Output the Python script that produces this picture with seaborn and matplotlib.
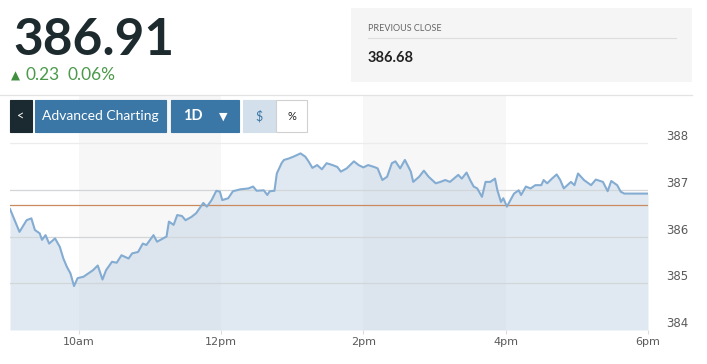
import matplotlib
matplotlib.use("Agg")
import matplotlib.pyplot as plt
from matplotlib.patches import Rectangle
import seaborn as sns
import pandas as pd

# intraday quotes
times = ["9:02", "9:10", "9:16", "9:20", "9:23", "9:27", "9:29", "9:32", "9:35", "9:40",
         "9:44", "9:47", "9:50", "9:53", "9:56", "9:59", "10:04", "10:08", "10:12", "10:16",
         "10:20", "10:23", "10:28", "10:32", "10:36", "10:42", "10:45", "10:50", "10:54", "10:57",
         "11:03", "11:06", "11:11", "11:14", "11:16", "11:20", "11:23", "11:27", "11:30", "11:35",
         "11:39", "11:45", "11:48", "11:52", "11:56", "11:59", "12:01", "12:06", "12:10", "12:16",
         "12:23", "12:27", "12:30", "12:36", "12:39", "12:41", "12:45", "12:47", "12:51", "12:53",
         "12:57", "13:01", "13:07", "13:11", "13:14", "13:17", "13:21", "13:25", "13:29", "13:34",
         "13:38", "13:41", "13:46", "13:52", "13:56", "14:00", "14:04", "14:09", "14:12", "14:16",
         "14:20", "14:24", "14:27", "14:31", "14:35", "14:40", "14:42", "14:47", "14:51", "14:55",
         "15:01", "15:05", "15:09", "15:13", "15:20", "15:23", "15:27", "15:30", "15:33", "15:36",
         "15:40", "15:43", "15:47", "15:51", "15:53", "15:56", "15:58", "16:01", "16:04", "16:07",
         "16:11", "16:13", "16:17", "16:21", "16:25", "16:30", "16:32", "16:35", "16:39", "16:43",
         "16:46", "16:49", "16:55", "16:58", "17:01", "17:06", "17:12", "17:16", "17:22", "17:26",
         "17:29", "17:34", "17:37", "17:40", "18:00"]
prices = [386.59, 386.10, 386.35, 386.39, 386.14, 386.07, 385.93, 386.03, 385.85, 385.96,
          385.78, 385.53, 385.35, 385.21, 384.94, 385.11, 385.14, 385.21, 385.28, 385.38,
          385.08, 385.28, 385.46, 385.44, 385.60, 385.53, 385.64, 385.67, 385.85, 385.82,
          386.03, 385.89, 385.96, 386.00, 386.32, 386.25, 386.46, 386.44, 386.35, 386.42,
          386.50, 386.72, 386.64, 386.78, 386.98, 386.96, 386.78, 386.82, 386.97, 387.01,
          387.03, 387.07, 386.98, 386.99, 386.89, 386.97, 386.98, 387.35, 387.57, 387.64,
          387.67, 387.71, 387.78, 387.71, 387.60, 387.47, 387.53, 387.44, 387.57, 387.53,
          387.49, 387.39, 387.46, 387.61, 387.53, 387.48, 387.53, 387.49, 387.46, 387.21,
          387.28, 387.57, 387.61, 387.46, 387.64, 387.39, 387.17, 387.28, 387.41, 387.28,
          387.14, 387.17, 387.21, 387.17, 387.32, 387.24, 387.37, 387.21, 387.07, 387.03,
          386.85, 387.17, 387.17, 387.24, 386.99, 386.74, 386.82, 386.64, 386.78, 386.92,
          386.99, 386.89, 387.07, 387.03, 387.10, 387.10, 387.21, 387.14, 387.24, 387.33,
          387.21, 387.03, 387.17, 387.10, 387.35, 387.21, 387.10, 387.22, 387.17, 386.97,
          387.19, 387.10, 386.96, 386.92, 386.92]

last_price = "386.91"
change = "0.23"
change_pct = "0.06%"
prev_close = 386.68
prev_close_label = "386.68"

x_ticks = [10, 12, 14, 16, 18]
x_tick_labels = ["10am", "12pm", "2pm", "4pm", "6pm"]
y_ticks = [384, 385, 386, 387, 388]
shaded_hours = [(10, 12), (14, 16)]

df = pd.DataFrame({"time": times, "price": prices})
hm = df["time"].str.split(":", expand=True).astype(int)
df["hour"] = hm[0] + hm[1] / 60

W, H = 707, 364
fig = plt.figure(figsize=(W / 100, H / 100), dpi=100)
fig.set_facecolor("white")


def fx(x):
    return x / W


def fy(y):
    return 1 - y / H


ax = fig.add_axes([fx(10), fy(330), fx(648) - fx(10), fy(95) - fy(330)])
ax.set_facecolor("white")

for a, b in shaded_hours:
    ax.axvspan(a, b, color="#f7f7f7", zorder=0, lw=0)

ax.fill_between(df["hour"], df["price"], 384, color="#c2d5e6", alpha=0.5, lw=0, zorder=1)

for t in y_ticks[1:]:
    ax.axhline(t, color="#ececec" if t == 388 else "#d3d6d9", lw=0.9, zorder=1.5)

ax.axhline(prev_close, color="#c98a5e", lw=0.9, zorder=2)

sns.lineplot(data=df, x="hour", y="price", color="#84acd2", lw=1.5, ax=ax, zorder=3)

ax.set_xlim(df["hour"].iloc[0], 18)
ax.set_ylim(384, 389.03)
ax.set_xlabel("")
ax.set_ylabel("")
for s in ax.spines.values():
    s.set_visible(False)
ax.set_xticks(x_ticks, labels=x_tick_labels)
ax.set_yticks(y_ticks, labels=[str(t) for t in y_ticks])
ax.yaxis.tick_right()
ax.tick_params(axis="x", length=3, color="#dddddd", labelsize=8, labelcolor="#5a5a5a", pad=2)
ax.tick_params(axis="y", length=0, labelsize=8.5, labelcolor="#5a5a5a", pad=13)
for lab in ax.get_yticklabels():
    lab.set_verticalalignment("bottom")

# header
fig.text(fx(13), fy(55), last_price, family="Lato", weight="bold", fontsize=37,
         color="#1d2b2f", va="baseline")
fig.text(fx(10.5), fy(79.5), "▲", family="DejaVu Sans", fontsize=8.5, color="#3f8f3f",
         va="baseline")
fig.text(fx(25), fy(80), change, family="Lato", fontsize=12.5, color="#4b9a4b", va="baseline")
fig.text(fx(68), fy(80), change_pct, family="Lato", fontsize=12.5, color="#4b9a4b", va="baseline")

fig.add_artist(Rectangle((fx(351), fy(82)), fx(692) - fx(351), fy(8) - fy(82),
                         transform=fig.transFigure, color="#f5f5f5", lw=0, zorder=0.5))
fig.text(fx(368), fy(31), "PREVIOUS CLOSE", family="Lato", fontsize=6.5, color="#666666",
         va="baseline")
fig.add_artist(plt.Line2D([fx(368), fx(676)], [fy(38), fy(38)], transform=fig.transFigure,
                          color="#dddddd", lw=0.8))
fig.text(fx(368), fy(62), prev_close_label, family="Lato", weight="bold", fontsize=10.5,
         color="#222222", va="baseline")

fig.add_artist(plt.Line2D([0, fx(692)], [fy(95), fy(95)], transform=fig.transFigure,
                          color="#e3e3e3", lw=0.9, zorder=0.5))

# buttons
buttons = [(10, 32, "#1b2a30", "<", "white", 9),
           (35, 166, "#3b77a6", "Advanced Charting", "white", 10),
           (171, 239, "#3b77a6", "", "white", 10),
           (243, 275, "#d3dfea", "$", "#3b77a6", 9),
           (276, 307, "white", "%", "#222222", 8)]
for x0, x1, fc, label, tc, fs in buttons:
    fig.add_artist(Rectangle((fx(x0), fy(132)), fx(x1) - fx(x0), fy(100) - fy(132),
                             transform=fig.transFigure, facecolor=fc,
                             edgecolor="#d0d0d0" if fc == "white" else fc, lw=0.8, zorder=5))
    if label:
        fig.text(fx((x0 + x1) / 2), fy(116), label, family="Lato", fontsize=fs, color=tc,
                 ha="center", va="center", zorder=6)
fig.text(fx(183), fy(116), "1D", family="Lato", weight="bold", fontsize=10.5, color="white",
         va="center", zorder=6)
fig.text(fx(223), fy(117), "▼", family="DejaVu Sans", fontsize=8, color="white",
         ha="center", va="center", zorder=6)

plt.savefig("out.png", dpi=100)
